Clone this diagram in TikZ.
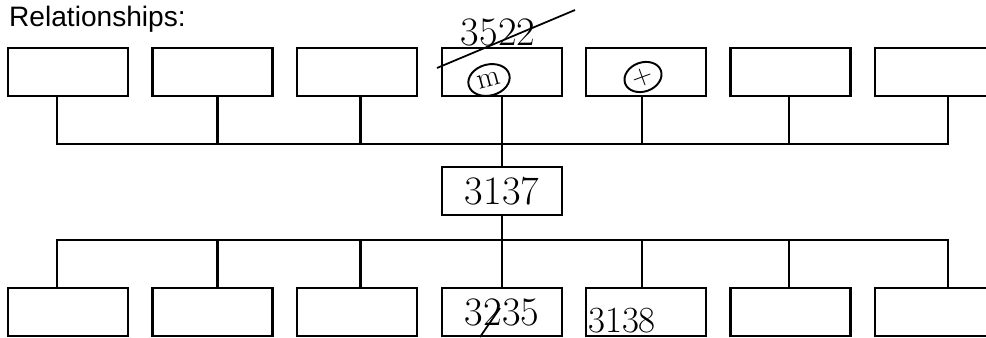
\documentclass[tikz,border=0pt]{standalone}
\usepackage{fontspec}
\newfontfamily\titlefont{Liberation Sans}
\usetikzlibrary{shapes.geometric}

\begin{document}
\begin{tikzpicture}[
    line width=1.3pt,
    rbox/.style={draw, rectangle, minimum width=2.4cm, minimum height=0.96cm, inner sep=0pt},
    hand/.style={font=\fontsize{23}{23}\selectfont, inner sep=0pt},
    ring/.style={draw, ellipse, inner sep=0pt, line width=1.1pt}
]
    \useasboundingbox (0, 0) rectangle (19.72, -6.76);
    \clip (0, 0) rectangle (19.72, -6.76);

    \node[anchor=base west, inner sep=0pt, font=\titlefont\fontsize{16}{16}\selectfont] at (0.16, -0.54) (title) {Relationships:};

    % top row
    \node[rbox] at (1.36, -1.44) (T1) {};
    \node[rbox] at (4.25, -1.44) (T2) {};
    \node[rbox] at (7.14, -1.44) (T3) {};
    \node[rbox] at (10.04, -1.44) (T4) {};
    \node[rbox] at (12.92, -1.44) (T5) {};
    \node[rbox] at (15.81, -1.44) (T6) {};
    \node[rbox] at (18.70, -1.44) (T7) {};

    \node[rbox, hand] at (10.04, -3.82) (M) {3137};

    % bottom row
    \node[rbox] at (1.36, -6.24) (B1) {};
    \node[rbox] at (4.25, -6.24) (B2) {};
    \node[rbox] at (7.14, -6.24) (B3) {};
    \node[rbox, hand] at (10.04, -6.24) (B4) {3235};
    \node[rbox] at (12.92, -6.24) (B5) {};
    \node[rbox] at (15.81, -6.24) (B6) {};
    \node[rbox] at (18.70, -6.24) (B7) {};

    \coordinate (tbus) at (0, -2.88);
    \coordinate (bbus) at (0, -4.80);

    \draw ([xshift=-2.2mm]T1.south) |- ([xshift=2.6mm]T7.south |- tbus) -- ([xshift=2.6mm]T7.south);
    \draw ([xshift=1mm]T2.south) -- ([xshift=1mm]T2.south |- tbus);
    \draw ([xshift=0.7mm]T3.south) -- ([xshift=0.7mm]T3.south |- tbus);
    \draw ([xshift=-0.8mm]T5.south) -- ([xshift=-0.8mm]T5.south |- tbus);
    \draw ([xshift=-0.3mm]T6.south) -- ([xshift=-0.3mm]T6.south |- tbus);
    \draw (T4) -- (M);
    \draw (M) -- (B4);
    \draw ([xshift=-2.2mm]B1.north) |- ([xshift=2.6mm]B7.north |- bbus) -- ([xshift=2.6mm]B7.north);
    \draw ([xshift=1mm]B2.north) -- ([xshift=1mm]B2.north |- bbus);
    \draw ([xshift=0.7mm]B3.north) -- ([xshift=0.7mm]B3.north |- bbus);
    \draw ([xshift=-0.8mm]B5.north) -- ([xshift=-0.8mm]B5.north |- bbus);
    \draw ([xshift=-0.3mm]B6.north) -- ([xshift=-0.3mm]B6.north |- bbus);

    % notes
    \node[hand] at (9.96, -0.64) (w3522) {3522};
    \draw[line width=1pt] (8.74, -1.36) -- (11.5, -0.2);
    \node[ring, minimum width=0.84cm, minimum height=0.62cm, rotate=15] at (9.78, -1.6) (am) {\fontsize{17}{17}\selectfont m};
    \node[ring, minimum width=0.76cm, minimum height=0.58cm, rotate=20] at (12.86, -1.54) (plus) {\fontsize{16}{16}\selectfont +};
    \draw[line width=1pt] (9.6, -6.74) -- (10.0, -6.16);
    \node[hand, font=\fontsize{21}{21}\selectfont] at (12.44, -6.42) (w3138) {3138};
\end{tikzpicture}
\end{document}
